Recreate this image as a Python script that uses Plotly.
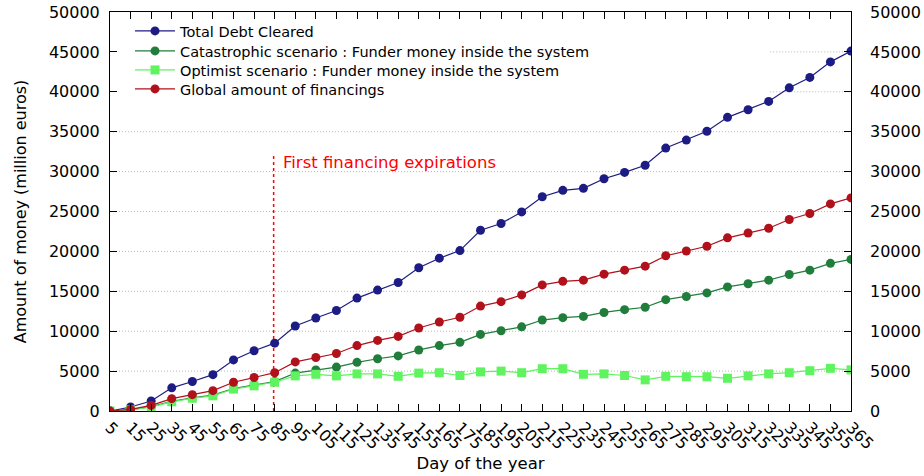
import plotly.graph_objects as go

days = list(range(5, 366, 10))

total_debt = [0, 500, 1250, 2900, 3700, 4550, 6400, 7550, 8500, 10650, 11650, 12600,
              14150, 15150, 16100, 17950, 19150, 20100, 22650, 23500, 24950, 26850,
              27650, 27900, 29100, 29900, 30800, 32950, 33950, 35050, 36800, 37750,
              38800, 40500, 41800, 43750, 45100]
catastrophic = [0, 150, 550, 1200, 1650, 2000, 2800, 3250, 3700, 4750, 5150, 5500,
                6100, 6550, 6900, 7650, 8200, 8600, 9600, 10050, 10550, 11400, 11700,
                11850, 12350, 12700, 13000, 13950, 14350, 14800, 15550, 15950, 16400,
                17100, 17650, 18500, 19000]
optimist = [0, 150, 500, 1150, 1600, 1900, 2750, 3150, 3600, 4400, 4600, 4400,
            4650, 4650, 4350, 4750, 4800, 4450, 4900, 5000, 4800, 5300, 5300, 4600,
            4650, 4450, 3900, 4350, 4300, 4300, 4100, 4400, 4650, 4800, 5050, 5350,
            5150]
global_fin = [0, 200, 700, 1550, 2050, 2550, 3600, 4200, 4800, 6150, 6700, 7200,
              8200, 8850, 9350, 10400, 11150, 11750, 13150, 13700, 14550, 15800, 16250,
              16400, 17150, 17650, 18150, 19450, 20050, 20650, 21700, 22300, 22900,
              24000, 24750, 25950, 26700]

tick_vals_y = list(range(0, 50001, 5000))
tick_text_y = [str(v) for v in tick_vals_y]
tick_text_x = [str(d) for d in days]

expire_day = 84.5
expire_top = 32300
expire_label = "First financing expirations"

series = [
    ("Total Debt Cleared", total_debt, "#1c1c84", "circle", 9),
    ("Catastrophic scenario : Funder money inside the system", catastrophic, "#217d3b", "circle", 9),
    ("Optimist scenario : Funder money inside the system", optimist, "#5ff45f", "square", 9),
    ("Global amount of financings", global_fin, "#b0111b", "circle", 9),
]

FONT = "DejaVu Sans"
fig = go.Figure()

# dotted grid lines (the key box hides them in its area)
KEY_RIGHT = 0.891
KEY_BOTTOM_VALUE = 37000
for v in tick_vals_y[1:-1]:
    x0 = KEY_RIGHT if v > KEY_BOTTOM_VALUE else 0
    fig.add_shape(type="line", xref="paper", yref="y", x0=x0, x1=1, y0=v, y1=v,
                  line=dict(color="#b8b8b8", width=1, dash="1px,2px"), layer="below")

fig.add_trace(go.Scatter(x=[expire_day, expire_day], y=[0, expire_top], mode="lines",
                         line=dict(color="#ff0000", width=1.5, dash="3px,3px"),
                         showlegend=False, hoverinfo="skip"))

legend_ids = ["legend", "legend2", "legend3", "legend4"]
for (name, vals, color, sym, size), lid in zip(series, legend_ids):
    fig.add_trace(go.Scatter(x=days, y=vals, name=name, mode="lines+markers",
                             line=dict(color=color, width=1.2), legend=lid,
                             marker=dict(color=color, symbol=sym, size=size)))

fig.add_trace(go.Scatter(x=[days[0]], y=[0], yaxis="y2", mode="markers",
                         marker=dict(opacity=0), showlegend=False, hoverinfo="skip"))

fig.add_annotation(x=expire_day + 3.4, y=31200, xref="x", yref="y", text=expire_label,
                   showarrow=False, xanchor="left", yanchor="middle",
                   font=dict(family=FONT, size=16.5, color="#ff0000"))

axis_common = dict(linecolor="black", linewidth=1, ticks="inside",
                   ticklen=7, tickcolor="black", tickwidth=1, automargin=False,
                   tickfont=dict(family=FONT, size=16, color="black"))

legend_style = dict(xanchor="left", yanchor="middle", bgcolor="rgba(0,0,0,0)",
                    font=dict(family=FONT, size=14.5), itemwidth=40)
row_px = [31, 51, 70, 89]   # key rows, pixels from the top of the page
layout_legends = {}
for lid, py in zip(legend_ids, row_px):
    layout_legends[lid] = dict(x=0.027, y=1 - (py - 12) / 399.0, **legend_style)

fig.update_layout(
    width=924, height=476,
    margin=dict(l=110, r=73, t=12, b=65),
    paper_bgcolor="white", plot_bgcolor="white",
    font=dict(family=FONT, size=15, color="black"),
    xaxis=dict(range=[5, 365], tickvals=days, ticktext=tick_text_x, tickangle=45,
               showline=True, mirror="ticks", showgrid=False, zeroline=False,
               title=dict(text="Day of the year", font=dict(family=FONT, size=16.5), standoff=5),
               **axis_common),
    yaxis=dict(range=[0, 50000], tickvals=tick_vals_y, ticktext=tick_text_y,
               showline=True, mirror="ticks", showgrid=False, zeroline=False,
               ticklabelstandoff=6,
               title=dict(text="Amount of money (million euros)", font=dict(family=FONT, size=16), standoff=18),
               **axis_common),
    yaxis2=dict(range=[0, 50000], tickvals=tick_vals_y, ticktext=tick_text_y,
                overlaying="y", side="right", showgrid=False, zeroline=False,
                ticklabelstandoff=18, showline=False, **axis_common),
    showlegend=True,
    **layout_legends,
)

fig.write_html("out.html", config={"displayModeBar": False},
               post_script="document.body.style.margin='0';")
